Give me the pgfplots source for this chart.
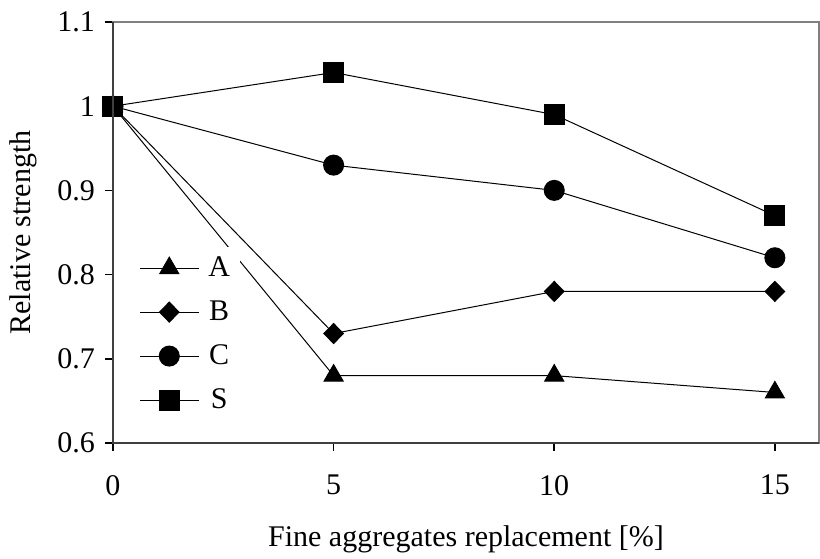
\documentclass[border=0pt]{standalone}
\usepackage{pgfplots}
\pgfplotsset{compat=1.18}
\usepackage{fontspec}
\setmainfont{Liberation Serif}
\newcommand{\lf}{\fontsize{15}{18}\selectfont}
\begin{document}
\begin{tikzpicture}
\begin{axis}[
  scale only axis,
  width=353pt, height=210.5pt,
  xmin=0, xmax=16, ymin=0.6, ymax=1.1,
  xtick={0,5,10,15}, ytick={0.6,0.7,0.8,0.9,1.0,1.1},
  yticklabels={0.6,0.7,0.8,0.9,1,1.1},
  xtick pos=left, ytick pos=left,
  tick align=outside, major tick length=4pt,
  tick style={black, line width=0.75pt},
  axis line style={black!50, line width=1pt},
  /pgf/number format/assume math mode=true,
  tick label style={font=\lf},
  yticklabel style={xshift=-1.5pt},
  xticklabel style={yshift=-8.5pt},
  xlabel={Fine aggregates replacement [\%]},
  ylabel={Relative strength},
  every axis x label/.style={at={(axis description cs:0.5,-0.23)},anchor=center,font=\lf,inner sep=0pt},
  every axis y label/.style={at={(axis description cs:-0.1275,0.5)},rotate=90,anchor=center,font=\lf,inner sep=0pt},
  clip=false,
  legend image code/.code={\draw[mark repeat=2,mark phase=2] plot coordinates {(0pt,0pt) (14.75pt,0pt) (29.5pt,0pt)};},
  legend style={at={(rel axis cs:0.031,0.467)}, anchor=north west, draw=none, fill=white,
    font=\lf, row sep=4.6pt, inner sep=2pt, nodes={inner sep=3pt},
    /tikz/every odd column/.append style={column sep=1.5pt}},
  after end axis/.code={
    \draw[black!75, line width=1pt] (rel axis cs:0,1) -- (rel axis cs:0,0) -- (rel axis cs:1,0);
    \path (rel axis cs:0,0) ++(-56.5pt,-58pt);
    \path (rel axis cs:1,1) ++(0.5pt,11pt);
  },
]
\addplot[black, line width=0.5pt, mark=triangle*, mark size=5.5pt] coordinates {(0,1) (5,0.68) (10,0.68) (15,0.66)};
\addlegendentry{A}
\addplot[black, line width=0.5pt, mark=diamond*, mark size=5pt, mark options={xscale=1.3}] coordinates {(0,1) (5,0.73) (10,0.78) (15,0.78)};
\addlegendentry{B}
\addplot[black, line width=0.5pt, mark=*, mark size=5pt] coordinates {(0,1) (5,0.93) (10,0.90) (15,0.82)};
\addlegendentry{C}
\addplot[black, line width=0.5pt, mark=square*, mark size=5pt] coordinates {(0,1) (5,1.04) (10,0.99) (15,0.87)};
\addlegendentry{S}
\end{axis}
\end{tikzpicture}
\end{document}
